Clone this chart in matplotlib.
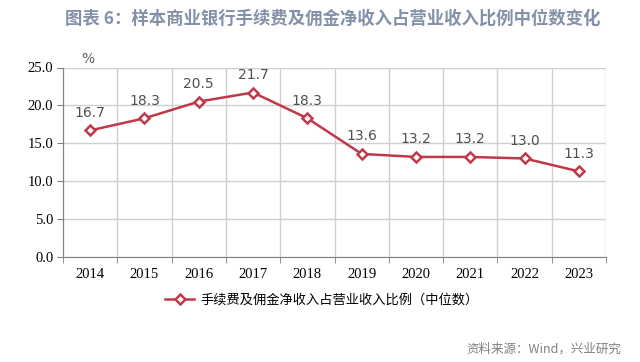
import numpy as np
import matplotlib.pyplot as plt

years = ['2014', '2015', '2016', '2017', '2018', '2019', '2020', '2021', '2022', '2023']
ratio = [16.7, 18.3, 20.5, 21.7, 18.3, 13.6, 13.2, 13.2, 13.0, 11.3]
yticks = [0.0, 5.0, 10.0, 15.0, 20.0, 25.0]

cjk = ['Noto Sans CJK SC', 'DejaVu Sans']
red = '#c0394b'

fig = plt.figure(figsize=(6.4, 3.62), dpi=100)
ax = fig.add_axes([63 / 640, 1 - 257 / 362, (606 - 63) / 640, (257 - 67.5) / 362])

x = np.arange(len(years))
ax.plot(x, ratio, color=red, lw=1.8, marker='D', ms=5, mfc='white', mec=red, mew=1.8,
        label='手续费及佣金净收入占营业收入比例（中位数）', zorder=3)
for xi, v in zip(x, ratio):
    ax.text(xi, v + 1.4, '%.1f' % v, ha='center', va='bottom', fontsize=10,
            color='#505050', family='DejaVu Sans')

ax.set_xlim(-0.5, len(years) - 0.5)
ax.set_ylim(0, 25)
ax.set_yticks(yticks)
ax.set_yticklabels(['%.1f' % t for t in yticks], family='Liberation Serif', fontsize=10.5)
ax.set_xticks(x)
ax.set_xticklabels(years, family='Liberation Serif', fontsize=10.5)
ax.set_xticks(np.arange(len(years) + 1) - 0.5, minor=True)
ax.tick_params(axis='x', which='major', length=0, pad=8)
ax.tick_params(axis='x', which='minor', length=4, color='#808080', direction='out')
ax.tick_params(axis='y', length=4, color='#808080', pad=3)
ax.grid(axis='y', color='#d0d0d0', lw=1)
ax.grid(axis='x', which='minor', color='#d0d0d0', lw=1)
for s in ['top', 'right']:
    ax.spines[s].set_visible(False)
for s in ['left', 'bottom']:
    ax.spines[s].set_color('#808080')
ax.set_axisbelow(True)

ax.text(-0.05, 25.2, '%', ha='center', va='bottom', fontsize=10, color='#606060')

fig.text(0.52, 0.95, '图表 6：样本商业银行手续费及佣金净收入占营业收入比例中位数变化',
         ha='center', va='center', fontsize=12.5, fontweight='bold', color='#8391a8', family=cjk)
fig.text(0.97, 0.035, '资料来源：Wind，兴业研究', ha='right', va='center', fontsize=9,
         color='#808080', family=cjk)
ax.legend(loc='upper center', bbox_to_anchor=(0.477, -0.13), frameon=False,
          prop={'family': cjk, 'size': 9.5}, handlelength=2.2, handletextpad=0.5)

fig.savefig('out.png', dpi=100)
